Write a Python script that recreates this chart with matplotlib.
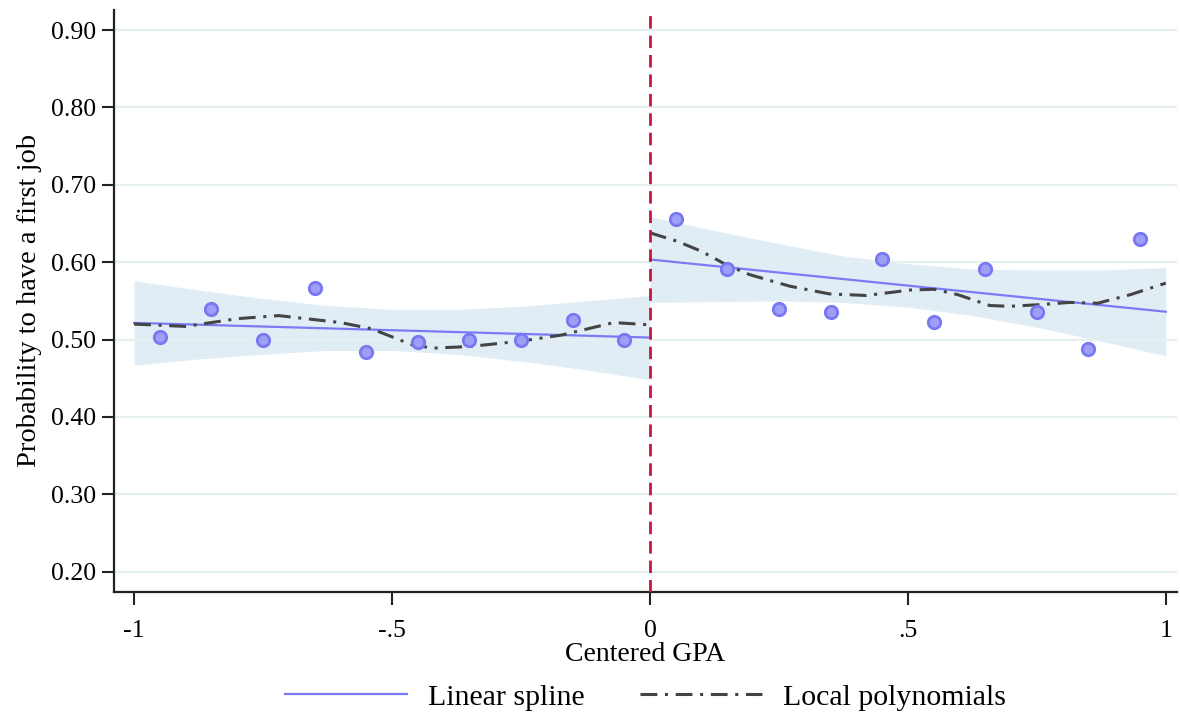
import numpy as np
import matplotlib
matplotlib.use("Agg")
import matplotlib.pyplot as plt
from matplotlib.lines import Line2D

# ---- data ----
bin_x_left = [-0.95, -0.85, -0.75, -0.65, -0.55, -0.45, -0.35, -0.25, -0.15, -0.05]
bin_y_left = [0.503, 0.540, 0.500, 0.567, 0.484, 0.497, 0.500, 0.500, 0.525, 0.500]
bin_x_right = [0.05, 0.15, 0.25, 0.35, 0.45, 0.55, 0.65, 0.75, 0.85, 0.95]
bin_y_right = [0.656, 0.591, 0.540, 0.536, 0.604, 0.523, 0.591, 0.535, 0.488, 0.630]

lin_x_left = [-1.0, 0.0]
lin_y_left = [0.5216, 0.5026]
lin_x_right = [0.0, 1.0]
lin_y_right = [0.6035, 0.536]

band_x_left = [-1.0, -0.875, -0.75, -0.625, -0.5, -0.375, -0.25, -0.125, 0.0]
band_up_left = [0.576, 0.564, 0.553, 0.544, 0.539, 0.539, 0.543, 0.550, 0.557]
band_lo_left = [0.467, 0.475, 0.481, 0.486, 0.486, 0.481, 0.472, 0.461, 0.448]
band_x_right = [0.0, 0.125, 0.25, 0.375, 0.5, 0.625, 0.75, 0.875, 1.0]
band_up_right = [0.659, 0.641, 0.624, 0.608, 0.598, 0.591, 0.590, 0.590, 0.593]
band_lo_right = [0.548, 0.549, 0.550, 0.548, 0.542, 0.531, 0.516, 0.498, 0.479]

lp_x_left = [-1.0, -0.9, -0.8, -0.72, -0.6, -0.54, -0.46, -0.42, -0.35, -0.25, -0.17, -0.07, 0.0]
lp_y_left = [0.520, 0.517, 0.527, 0.531, 0.522, 0.514, 0.493, 0.489, 0.491, 0.498, 0.506, 0.522, 0.519]
lp_x_right = [0.0, 0.053, 0.10, 0.147, 0.193, 0.271, 0.348, 0.419, 0.504, 0.551, 0.597, 0.659,
              0.698, 0.752, 0.814, 0.868, 0.931, 1.0]
lp_y_right = [0.638, 0.627, 0.614, 0.597, 0.584, 0.569, 0.559, 0.557, 0.564, 0.565, 0.558, 0.544,
              0.543, 0.545, 0.548, 0.547, 0.558, 0.573]

xticks = [-1, -0.5, 0, 0.5, 1]
xtick_labels = ["-1", "-.5", "0", ".5", "1"]
yticks = [0.2, 0.3, 0.4, 0.5, 0.6, 0.7, 0.8, 0.9]
ytick_labels = ["0.20", "0.30", "0.40", "0.50", "0.60", "0.70", "0.80", "0.90"]

plt.rcParams['font.family'] = ['Liberation Serif', 'DejaVu Serif']

fig = plt.figure(figsize=(11.8, 7.13), dpi=100)
ax = fig.add_axes([0.0966, 0.170, 0.901, 0.816])

band_col = "#E1EDF5"
blue = "#7B7BF5"
ax.fill_between(band_x_left, band_lo_left, band_up_left, color=band_col, lw=0, zorder=1)
ax.fill_between(band_x_right, band_lo_right, band_up_right, color=band_col, lw=0, zorder=1)

for y in yticks:
    ax.axhline(y, color="#E6EFF2", lw=1.6, zorder=1.5)

ax.plot(lin_x_left, lin_y_left, color=blue, lw=1.6, zorder=3)
ax.plot(lin_x_right, lin_y_right, color=blue, lw=1.6, zorder=3)

ls_lp = (0, (5.5, 2.5, 1, 2.5))
ax.plot(lp_x_left, lp_y_left, color="#444444", lw=2.2, ls=ls_lp, zorder=4)
ax.plot(lp_x_right, lp_y_right, color="#444444", lw=2.2, ls=ls_lp, zorder=4)

ax.scatter(bin_x_left + bin_x_right, bin_y_left + bin_y_right, s=80,
           facecolor="#9E9EF7", edgecolor="#7878F2", linewidth=2, zorder=5)

ax.axvline(0, color="#C8163C", lw=2, ls=(0, (4.5, 2.5)), zorder=6)

ax.set_xlim(-1.039, 1.022)
ax.set_ylim(0.174, 0.926)
ax.set_xticks(xticks)
ax.set_xticklabels(xtick_labels)
ax.set_yticks(yticks)
ax.set_yticklabels(ytick_labels)
ax.tick_params(axis='both', direction='out', length=9, width=1.5, labelsize=18.5, color="#222222")
ax.tick_params(axis='x', pad=11)
ax.tick_params(axis='y', pad=4)
for s in ['top', 'right']:
    ax.spines[s].set_visible(False)
for s in ['left', 'bottom']:
    ax.spines[s].set_linewidth(1.6)
    ax.spines[s].set_color("#222222")

ax.set_ylabel("Probability to have a first job", fontsize=20.5, labelpad=6)
ax.set_xlabel("Centered GPA", fontsize=20, labelpad=0)

handles = [Line2D([], [], color=blue, lw=1.6),
           Line2D([], [], color="#444444", lw=2.2, ls=ls_lp)]
fig.legend(handles, ["Linear spline", "Local polynomials"], loc="center",
           bbox_to_anchor=(0.547, 0.022), ncol=2, frameon=False, fontsize=21.5,
           handlelength=4.1, columnspacing=1.85, handletextpad=0.7)

fig.savefig("out.png", dpi=100)
